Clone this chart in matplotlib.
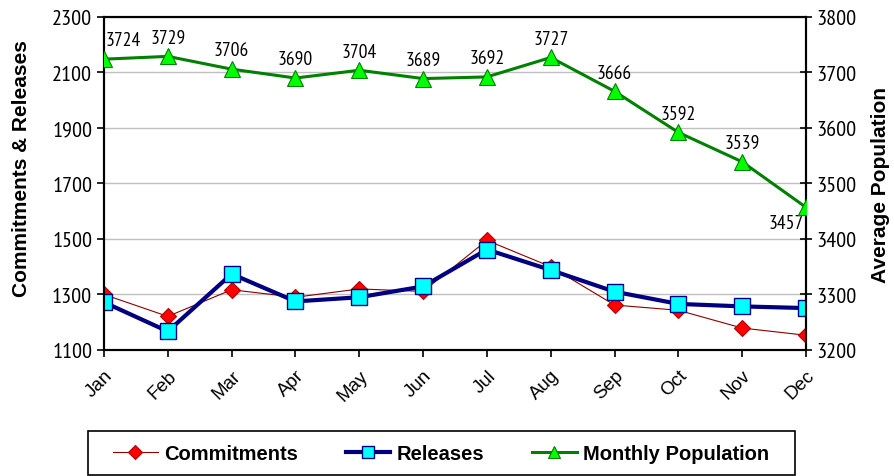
import matplotlib
matplotlib.use('Agg')
import matplotlib.pyplot as plt
from matplotlib.patches import Rectangle

# Data
months = ['Jan', 'Feb', 'Mar', 'Apr', 'May', 'Jun', 'Jul', 'Aug', 'Sep', 'Oct', 'Nov', 'Dec']
commitments = [1300, 1221, 1317, 1290, 1320, 1311, 1495, 1400, 1262, 1243, 1179, 1153]
releases = [1272, 1167, 1374, 1275, 1290, 1329, 1462, 1388, 1310, 1266, 1257, 1251]
population = [3724, 3729, 3706, 3690, 3704, 3689, 3692, 3727, 3666, 3592, 3539, 3457]

narrow = ['PT Sans Narrow', 'DejaVu Sans']
sans = ['Liberation Sans', 'DejaVu Sans']

x = list(range(len(months)))

fig = plt.figure(figsize=(8.94, 4.77), dpi=100)
ax = fig.add_axes([0.1163, 0.2642, 0.7853, 0.6981])
ax2 = ax.twinx()

# Left axis: commitments and releases
l1, = ax.plot(x, commitments, color='#8B0000', linewidth=0.8, marker='D', markersize=8,
              markerfacecolor='#FF0000', markeredgecolor='#B00000', markeredgewidth=0.8,
              label='Commitments', zorder=3)
l2, = ax.plot(x, releases, color='#000080', linewidth=3, marker='s', markersize=11,
              markerfacecolor='#00FFFF', markeredgecolor='#000080', markeredgewidth=1,
              label='Releases', zorder=4)
ax.set_xlim(0, 11)
ax.set_ylim(1100, 2300)
ax.set_yticks(range(1100, 2301, 200))
ax.yaxis.grid(True, color='#C0C0C0', linewidth=1)
ax.set_axisbelow(True)
ax.set_xticks(x)
ax.set_xticklabels(months, rotation=45, ha='right', rotation_mode='anchor',
                   family=sans, fontsize=13.5)
for lbl in ax.get_yticklabels():
    lbl.set_family(narrow)
    lbl.set_fontsize(16)
ax.tick_params(axis='both', direction='out', length=5, width=1.2, color='black')
ax.tick_params(axis='x', pad=7)

# Right axis: monthly population
l3, = ax2.plot(x, population, color='#008000', linewidth=2.2, marker='^', markersize=11,
               markerfacecolor='#00FF00', markeredgecolor='#008000', markeredgewidth=0.8,
               label='Monthly Population', zorder=5)
ax2.set_ylim(3200, 3800)
ax2.set_yticks(range(3200, 3801, 100))
for lbl in ax2.get_yticklabels():
    lbl.set_family(narrow)
    lbl.set_fontsize(16)
ax2.tick_params(axis='y', direction='inout', length=8, width=1.2, color='black')

for a in (ax, ax2):
    for s in a.spines.values():
        s.set_linewidth(1.5)
        s.set_color('black')

# Value labels on the population line
for i, v in enumerate(population):
    dx, dy, va = 0, 7, 'bottom'
    if i == 0:
        dx = 14
    if i == len(population) - 1:
        dx, dy, va = -14, -5, 'top'
    ax2.annotate(str(v), (i, v), xytext=(dx, dy), textcoords='offset points',
                 ha='center', va=va, family=narrow, fontsize=14, clip_on=False)

# Axis titles
fig.text(22 / 894, 1 - 169 / 477, 'Commitments & Releases', rotation=90, ha='center',
         va='center', fontsize=15, fontweight='bold', family=sans)
fig.text(880 / 894, 1 - 185 / 477, 'Average Population', rotation=90, ha='center',
         va='center', fontsize=15, fontweight='bold', family=sans)

# Legend with a square frame
fig.patches.append(Rectangle((88 / 894, 0.002), 707 / 894, 44 / 477, transform=fig.transFigure,
                             fill=False, edgecolor='black', linewidth=1.2))
fig.legend([l1, l2, l3], ['Commitments', 'Releases', 'Monthly Population'],
           loc='center', bbox_to_anchor=(441 / 894, 1 - 455 / 477), ncol=3, frameon=False,
           prop={'family': sans, 'weight': 'bold', 'size': 14.5},
           handlelength=2.2, handletextpad=0.3, columnspacing=2.4, markerscale=0.85)

fig.savefig('out.png', dpi=100)
